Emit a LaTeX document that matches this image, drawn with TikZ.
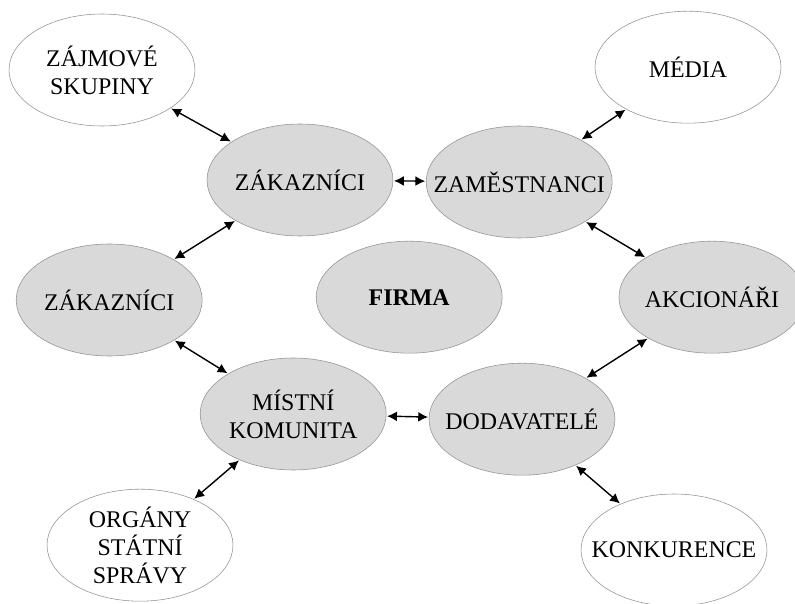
\documentclass[tikz,border=0pt]{standalone}
\usepackage{fontspec}
\setmainfont{Liberation Serif}
\usetikzlibrary{shapes.geometric,arrows.meta}

\tikzset{
  hub/.style={ellipse, draw=gray!85, fill=gray!30, minimum width=4.65cm, minimum height=2.8cm,
    align=center, inner xsep=-0.6cm, inner ysep=-0.15cm, font=\fontsize{17}{20}\selectfont},
  outer/.style={hub, fill=white},
  link/.style={{Latex[length=7pt,width=7pt]}-{Latex[length=7pt,width=7pt]}, line width=1pt, shorten <=0.5pt, shorten >=0.5pt}
}

\begin{document}
\begin{tikzpicture}
        \useasboundingbox (0,0) rectangle (19.875,-15.1);
        \clip (0,0) rectangle (19.875,-15.1);

        \node[outer] (zajem) at (2.55,-1.75) {ZÁJMOVÉ\\SKUPINY};
        \node[hub] (zak1) at (7.5,-4.5) {ZÁKAZNÍCI};
        \node[hub] (zam) at (12.98,-4.55) {ZAMĚSTNANCI};
        \node[outer] (media) at (17.2,-1.68) {MÉDIA};
        \node[hub] (zak2) at (2.73,-7.5) {ZÁKAZNÍCI};
        \node[hub] (firma) at (10.23,-7.43) {\textbf{FIRMA}};
        \node[hub] (akc) at (17.8,-7.43) {AKCIONÁŘI};
        \node[hub] (mist) at (7.33,-10.35) {MÍSTNÍ\\KOMUNITA};
        \node[hub] (dod) at (13.05,-10.48) {DODAVATELÉ};
        \node[outer] (org) at (3.5,-13.63) {ORGÁNY\\STÁTNÍ\\SPRÁVY};
        \node[outer] (konk) at (16.85,-13.75) {KONKURENCE};

        \draw[link] (zajem) -- (zak1);
        \draw[link] (zak1) -- (zam);
        \draw[link] (zam) -- (media);
        \draw[link] (zak1) -- (zak2);
        \draw[link] (zam) -- (akc);
        \draw[link] (zak2) -- (mist);
        \draw[link] (akc) -- (dod);
        \draw[link] (mist) -- (dod);
        \draw[link] (mist) -- (org);
        \draw[link] (dod) -- (konk);
    \end{tikzpicture}
\end{document}
